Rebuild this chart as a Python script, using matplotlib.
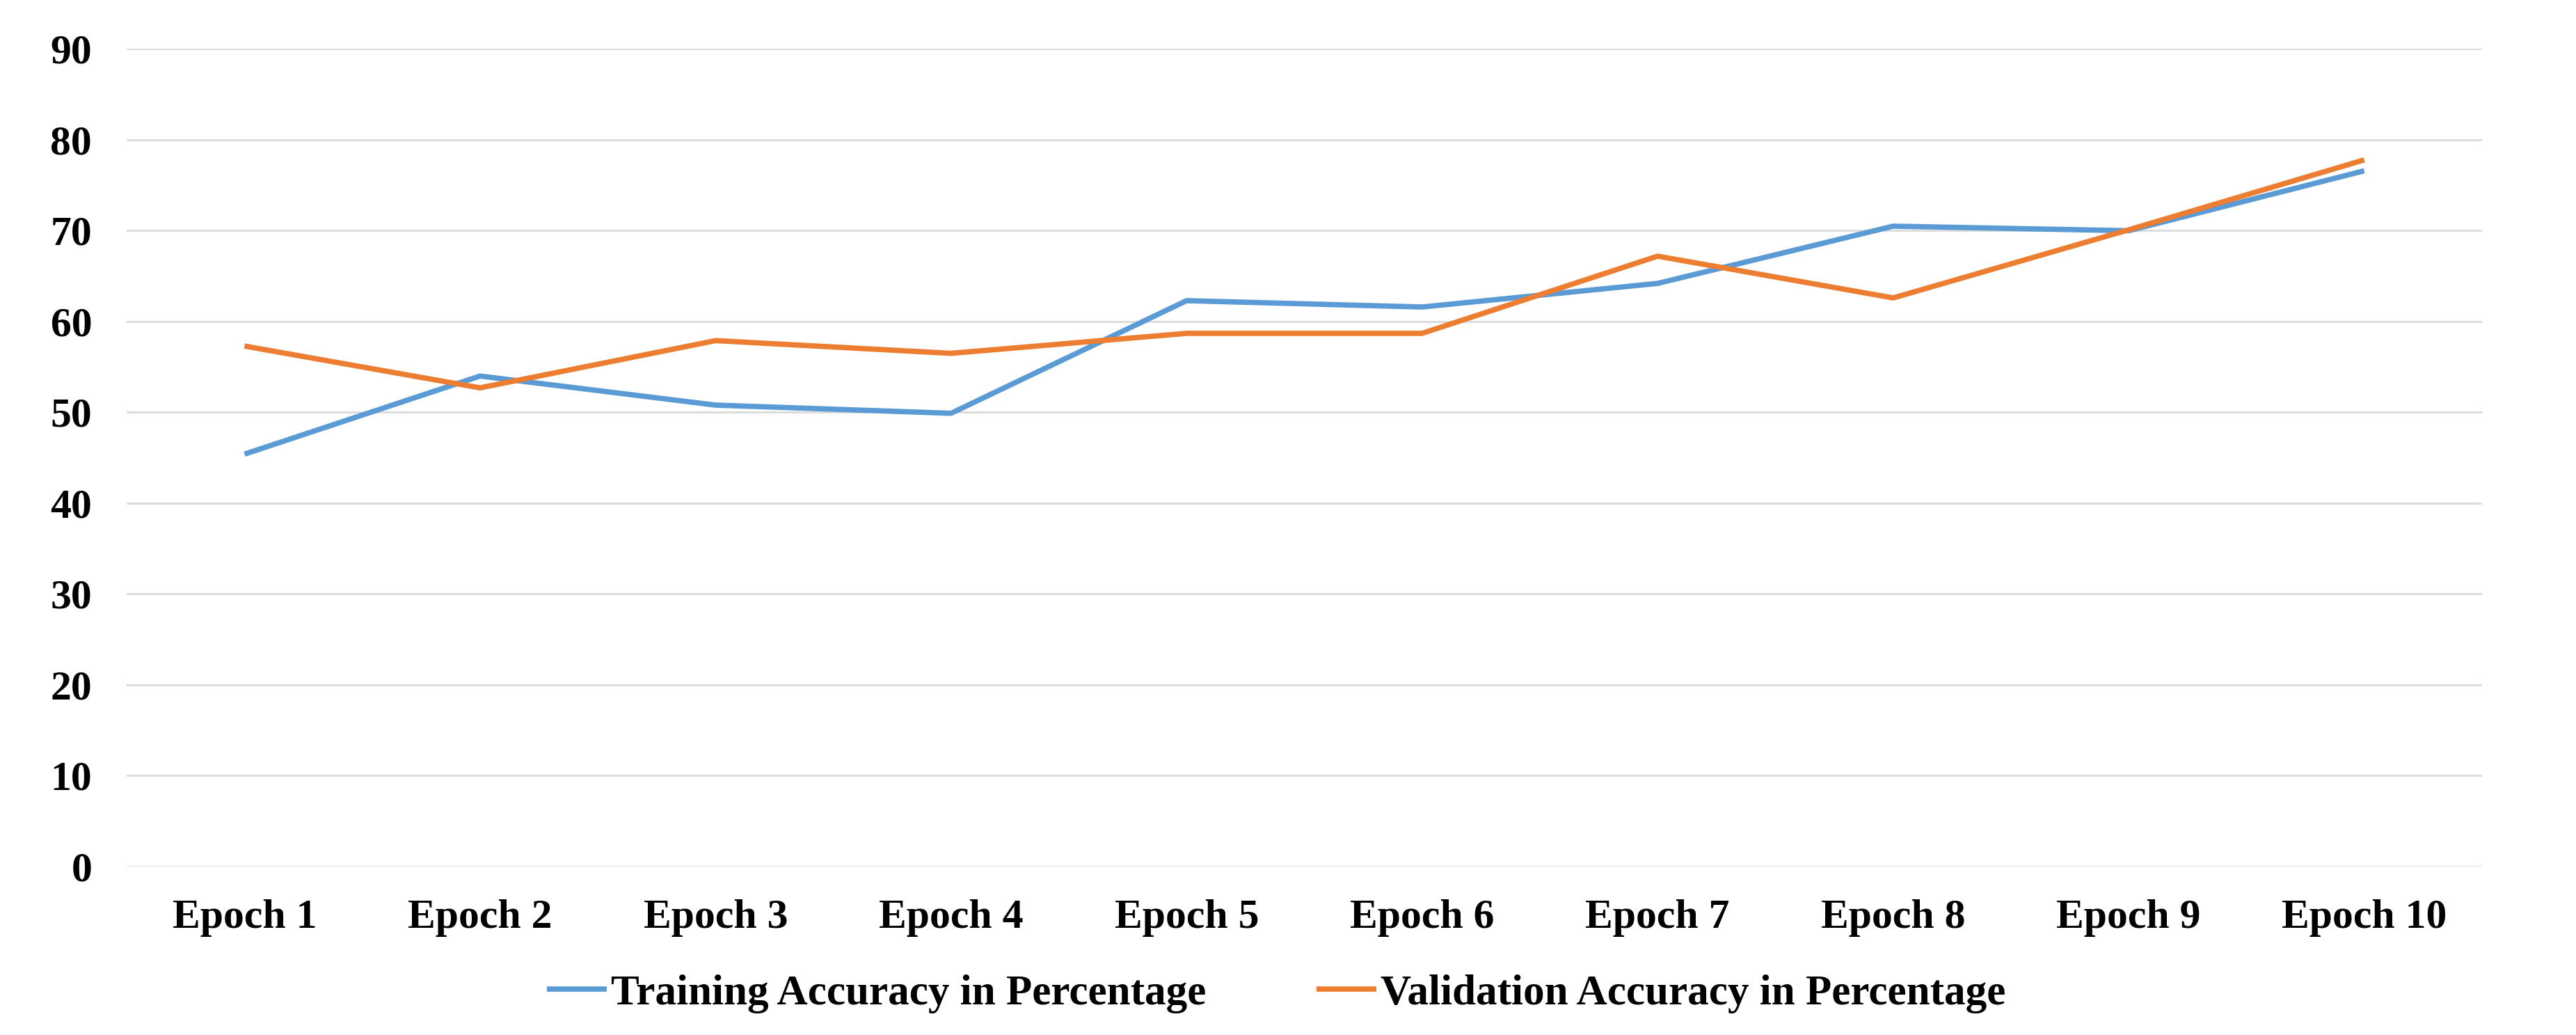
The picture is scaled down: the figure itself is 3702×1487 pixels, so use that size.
import matplotlib
matplotlib.use("Agg")
import matplotlib.pyplot as plt

epochs = [f"Epoch {i}" for i in range(1, 11)]
training_acc = [45.4, 54.0, 50.8, 49.9, 62.3, 61.6, 64.2, 70.5, 70.0, 76.6]
validation_acc = [57.3, 52.7, 57.9, 56.5, 58.7, 58.7, 67.2, 62.6, 70.1, 77.8]
yticks = list(range(0, 100, 10))

plt.rcParams['font.family'] = ['Liberation Serif', 'DejaVu Serif']
plt.rcParams['font.weight'] = 'bold'

fig = plt.figure(figsize=(37.02, 14.87), dpi=100)
ax = fig.add_axes([0.0492, 0.1628, 0.9143, 0.7898])

x = list(range(len(epochs)))
ax.plot(x, training_acc, color="#5B9BD5", linewidth=5.5,
        label="Training Accuracy in Percentage", solid_capstyle='butt')
ax.plot(x, validation_acc, color="#ED7D31", linewidth=5.5,
        label="Validation Accuracy in Percentage", solid_capstyle='butt')

ax.set_xlim(-0.5, len(epochs) - 0.5)
ax.set_ylim(0, 90)
ax.set_yticks(yticks)
ax.set_xticks(x)
ax.set_xticklabels(epochs)
ax.tick_params(axis='both', length=0, labelsize=43)
ax.tick_params(axis='y', pad=36)
ax.tick_params(axis='x', pad=34)
for lbl in ax.get_xticklabels() + ax.get_yticklabels():
    lbl.set_fontweight('bold')

ax.grid(axis='y', color="#DDDDDD", linewidth=2.2)
ax.set_axisbelow(True)
for s in ax.spines.values():
    s.set_visible(False)

fig.legend(loc='center', bbox_to_anchor=(0.4955, 0.04), ncol=2, frameon=False,
           fontsize=44, handlelength=1.4, handletextpad=0.1, columnspacing=2.6)

fig.savefig("out.png", dpi=100, facecolor="white")
